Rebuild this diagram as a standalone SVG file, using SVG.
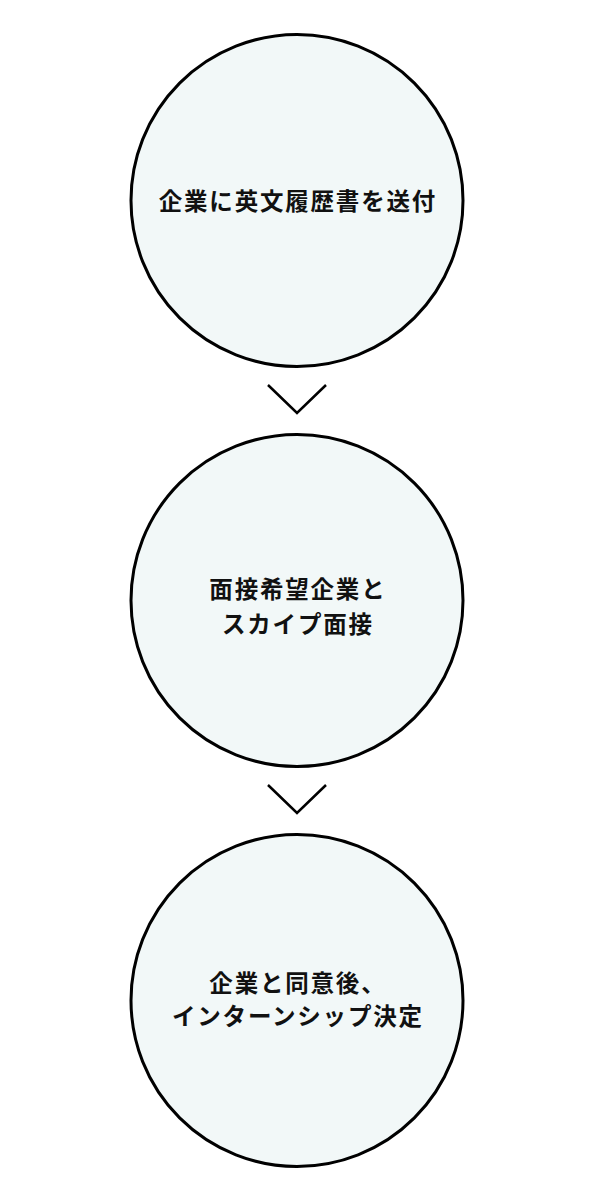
<svg xmlns="http://www.w3.org/2000/svg" width="600" height="1200" viewBox="0 0 600 1200">
  <style>
    .node { fill: #f2f8f8; stroke: #000000; stroke-width: 3; }
    .label { font-family: "Noto Sans CJK JP", "Noto Sans", sans-serif; font-size: 23.5px; font-weight: 700; fill: #111111; letter-spacing: 1.8px; text-anchor: middle; dominant-baseline: central; }
    .chev { fill: none; stroke: #000000; stroke-width: 2.5; }
  </style>
  <rect x="0" y="0" width="600" height="1200" fill="#ffffff"/>
  <g id="connectors">
    <polyline class="chev" points="268,385 297,413 326,385"/>
    <polyline class="chev" points="268,785 297,813 326,785"/>
  </g>
  <g id="node1">
    <circle class="node" cx="297" cy="200.5" r="166"/>
    <text class="label" x="297.9" y="200">企業に英文履歴書を送付</text>
  </g>
  <g id="node2">
    <circle class="node" cx="297" cy="600.5" r="166"/>
    <text class="label" x="297.9" y="588">面接希望企業と</text>
    <text class="label" x="297.9" y="623">スカイプ面接</text>
  </g>
  <g id="node3">
    <circle class="node" cx="297" cy="1000.5" r="166"/>
    <text class="label" x="297.9" y="982">企業と同意後、</text>
    <text class="label" x="297.9" y="1015">インターンシップ決定</text>
  </g>
</svg>
